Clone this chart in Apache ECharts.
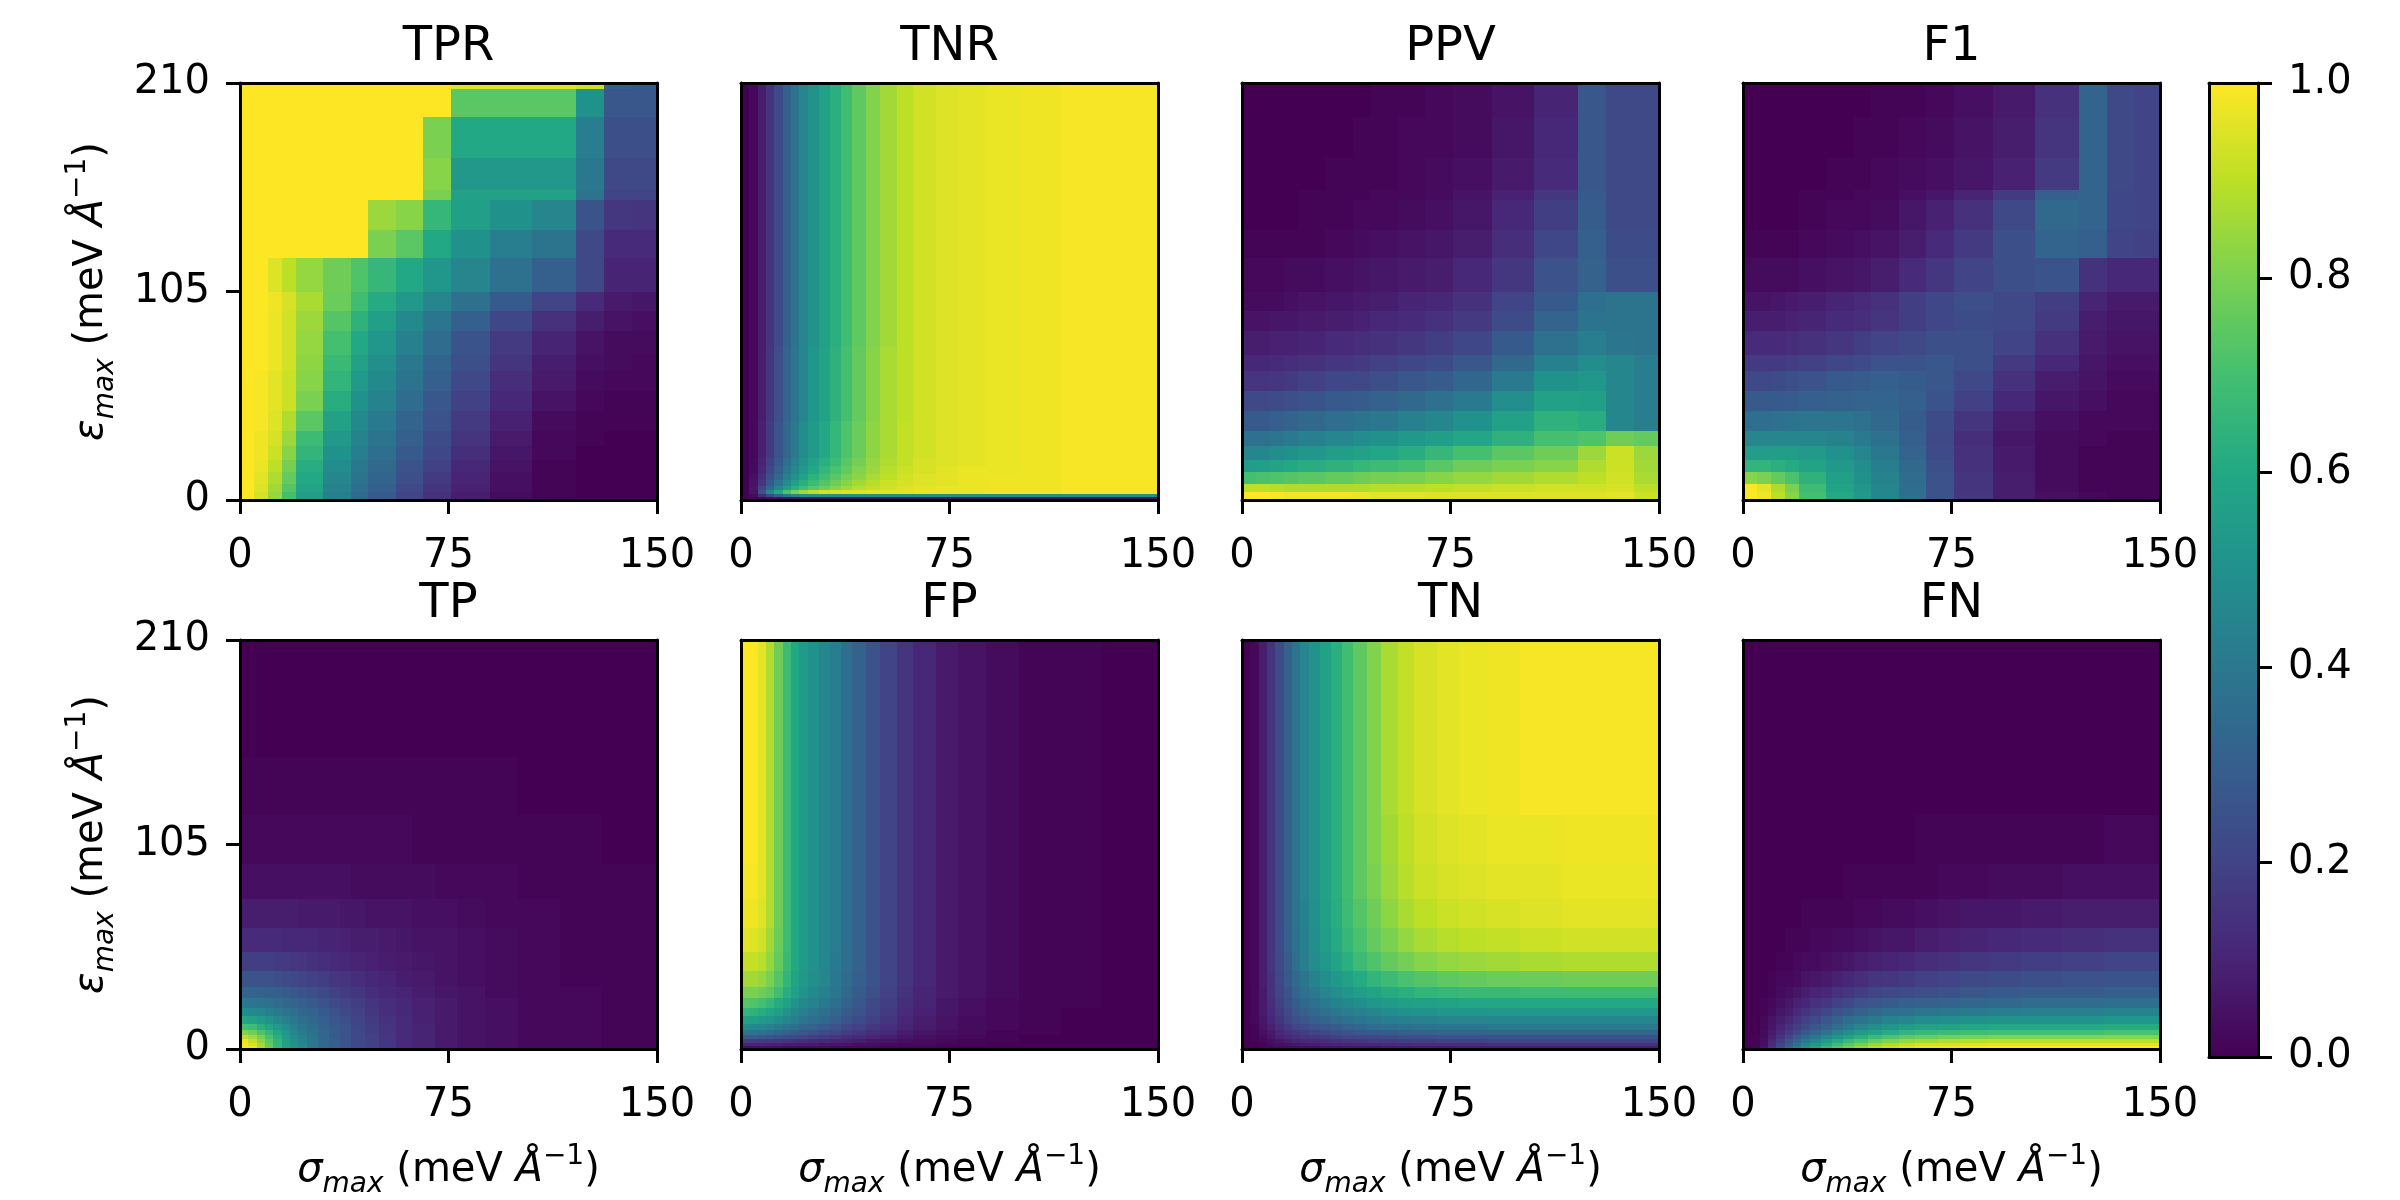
<!DOCTYPE html>
<html>
<head>
  <meta charset="utf-8">
  <script src="https://cdn.jsdelivr.net/npm/echarts@6/dist/echarts.min.js"></script>
</head>
<body style="margin: 0; background: #fff">
  <div id="container" style="width: 2400px; height: 1200px"></div>
  <script>
    // panel titles, tick labels
    const panelNames = ['TPR', 'TNR', 'PPV', 'F1', 'TP', 'FP', 'TN', 'FN'];
    const sigmaTicks = [0, 75, 150];
    const epsTicks = [0, 105, 210];
    const cbarTicks = [0, 0.2, 0.4, 0.6, 0.8, 1.0];

    // cell edges (sigma on x, epsilon on y) for the blocky and the smooth panels
    const blockX = [0, 5, 10, 15, 20, 30, 40, 46, 56, 66, 76, 90, 105, 121, 131, 141, 150];
    const blockY = [0, 4, 8, 14, 20, 27, 35, 45, 55, 65, 73, 85, 95, 105, 122, 136, 151, 156, 172, 193, 207, 210];
    const smoothX = [0, 3, 6, 9, 12, 15, 18, 21, 24, 28, 32, 36, 40, 45, 50, 56, 62, 70, 78, 88, 100, 115, 130, 150];
    const smoothY = [0, 1.5, 3, 5, 7, 10, 13, 17, 21, 26, 32, 40, 50, 62, 77, 95, 120, 150, 180, 210];

    // values in percent, rows listed from the top of each panel down
    const tprRows = [
      [100,100,100,100,100,100,100,100,100,100,95,95,95,92,30,28],
      [100,100,100,100,100,100,100,100,100,100,74,74,74,50,27,27],
      [100,100,100,100,100,100,100,100,100,80,60,60,60,42,24,24],
      [100,100,100,100,100,100,100,100,100,82,53,53,53,40,22,22],
      [100,100,100,100,100,100,100,100,100,80,57,57,57,38,20,20],
      [100,100,100,100,100,100,100,85,82,66,56,50,45,26,16,15],
      [100,100,100,100,100,100,100,80,74,60,50,42,38,22,12,12],
      [100,100,95,90,84,78,72,66,60,52,45,37,30,22,10,10],
      [100,100,98,94,87,77,69,61,53,45,37,28,20,12,7,6],
      [100,100,97,93,85,73,64,56,47,39,30,21,14,8,5,4],
      [100,100,97,93,84,70,60,52,43,35,26,17,10,5,3,3],
      [100,100,97,93,83,67,57,49,40,32,24,15,8,4,3,2],
      [100,99,96,92,82,65,54,47,38,30,22,13,7,3,2,2],
      [100,99,96,92,80,62,50,44,35,27,19,11,5,2,1,1],
      [100,99,95,88,74,57,47,41,32,25,17,9,3,1,1,1],
      [100,98,94,85,68,53,44,38,30,23,15,7,2,1,0,0],
      [100,98,92,82,65,50,42,36,28,21,13,6,2,0,0,0],
      [100,97,90,79,62,48,40,34,26,19,11,5,1,0,0,0],
      [100,96,88,76,60,46,38,32,24,17,10,4,1,0,0,0],
      [100,95,86,73,58,44,36,30,22,15,9,4,1,0,0,0],
      [100,94,84,70,55,42,34,28,20,14,8,3,1,0,0,0]
    ];
    const ppvRows = [
      [0,0,0,0,0,0,0,1,1,2,3,5,10,27,22,22],
      [0,0,0,0,0,0,0,1,1,2,3,5,10,27,22,22],
      [0,0,0,0,0,0,1,1,2,2,3,6,11,27,22,22],
      [0,0,0,0,0,1,1,1,2,3,4,7,12,27,22,22],
      [0,0,0,0,1,1,1,2,2,3,5,9,16,28,22,22],
      [0,0,0,0,1,1,2,2,3,4,6,11,18,29,22,22],
      [1,1,1,1,1,2,3,4,5,6,8,13,21,30,23,23],
      [2,2,2,3,3,4,5,6,7,8,11,16,25,31,24,24],
      [3,3,3,4,5,6,7,8,10,11,14,20,28,36,38,38],
      [5,5,6,6,7,8,9,11,12,14,17,23,32,38,38,38],
      [8,8,9,9,10,12,13,14,16,18,21,28,37,42,39,38],
      [11,11,12,13,14,16,17,19,21,23,27,34,43,48,46,42],
      [15,15,16,17,19,21,22,24,27,29,33,41,50,52,46,42],
      [22,22,23,24,26,28,29,31,34,37,41,49,57,56,46,42],
      [28,28,30,32,34,36,38,40,43,46,50,57,64,62,46,42],
      [37,37,39,41,43,46,48,50,53,55,59,64,70,72,78,76],
      [45,46,48,50,52,55,57,59,62,66,70,74,78,85,92,85],
      [55,56,58,60,62,64,66,68,70,74,78,80,82,88,92,86],
      [70,71,72,73,74,76,78,79,80,82,84,86,88,90,93,87],
      [90,90,89,88,88,88,88,89,89,90,91,92,93,93,94,90],
      [100,100,99,98,98,98,97,96,96,95,95,95,95,95,96,92]
    ];
    const f1Rows = [
      [0,0,0,0,0,0,0,1,1,2,4,7,14,32,22,20],
      [0,0,0,0,0,0,0,1,1,2,4,7,14,32,22,20],
      [0,0,0,0,0,0,1,1,2,3,5,8,15,32,22,20],
      [0,0,0,0,0,1,1,2,3,4,6,9,17,32,22,20],
      [0,0,0,0,1,1,2,2,4,6,10,17,30,32,21,20],
      [0,0,0,0,1,2,2,3,6,9,14,22,34,32,21,20],
      [1,1,1,1,2,3,4,5,8,12,17,24,32,30,20,19],
      [3,3,3,3,4,5,6,8,12,16,20,24,26,14,11,11],
      [5,5,6,7,8,10,12,14,18,21,24,22,18,10,7,7],
      [8,8,8,9,10,12,13,15,18,21,23,22,17,8,6,6],
      [12,12,12,13,14,16,18,20,22,24,24,20,14,7,5,5],
      [17,17,17,18,19,21,23,25,26,27,24,17,11,6,4,4],
      [22,22,23,24,26,28,29,30,29,27,22,14,8,5,3,3],
      [28,28,28,29,30,31,32,32,30,26,19,11,6,4,2,2],
      [36,36,37,38,39,39,37,34,29,23,15,8,4,2,2,2],
      [45,45,46,46,46,44,41,37,30,22,13,6,3,2,1,1],
      [55,55,55,55,54,50,46,40,32,23,14,7,3,1,1,1],
      [65,65,63,61,58,53,48,42,34,24,14,7,3,1,1,1],
      [82,80,76,71,64,56,50,44,35,25,15,8,3,1,1,1],
      [100,96,88,80,68,58,52,46,36,25,15,8,3,1,1,1],
      [100,98,90,82,70,60,53,46,36,26,16,8,4,2,1,1]
    ];
    const tnrRows = [
      [0,2,8,15,23,31,38,45,51,57,63,69,75,81,86,90,93,95,96,97,98,99,99],
      [0,2,8,15,23,31,38,45,51,57,63,69,75,81,86,90,93,95,96,97,98,99,99],
      [0,2,8,15,23,31,38,45,51,57,63,69,75,81,86,90,93,95,96,97,98,99,99],
      [0,2,8,15,23,31,38,45,51,57,63,69,75,81,86,90,93,95,96,97,98,99,99],
      [0,2,8,15,23,31,38,45,51,57,63,69,75,81,86,90,93,95,96,97,98,99,99],
      [0,2,8,16,24,32,39,46,52,58,64,70,76,82,87,90,93,95,96,97,98,99,99],
      [0,2,8,16,24,32,39,46,52,58,64,70,76,82,87,90,93,95,96,97,98,99,99],
      [0,2,8,16,24,32,39,46,52,58,64,70,76,82,87,90,93,95,96,97,98,99,99],
      [0,2,9,17,26,34,41,48,54,60,66,72,77,83,87,91,93,95,96,97,98,99,99],
      [0,2,9,17,26,34,41,48,54,60,66,72,77,83,87,91,93,95,96,97,98,99,99],
      [0,2,9,17,26,34,41,48,54,60,66,72,77,83,87,91,93,95,96,97,98,99,99],
      [0,3,10,19,28,36,44,51,57,63,68,74,79,84,88,91,94,95,96,97,98,99,99],
      [0,3,11,21,30,39,47,54,60,66,71,76,81,85,89,92,94,96,97,97,98,99,99],
      [0,4,13,24,34,43,51,58,64,69,74,79,83,87,90,93,95,96,97,98,98,99,99],
      [0,5,16,28,39,48,56,63,68,73,78,82,86,89,92,94,95,96,97,98,98,99,99],
      [0,6,20,33,45,55,63,69,74,78,82,86,89,91,93,95,96,97,97,98,98,99,99],
      [0,5,25,45,60,72,80,86,90,93,94,95,95,96,96,96,97,97,97,98,98,99,99],
      [0,3,12,22,32,40,45,48,50,50,50,50,50,50,50,50,50,50,50,50,50,50,50],
      [0,1,2,3,4,5,5,5,5,5,5,5,5,5,5,5,5,5,5,5,5,5,5]
    ];
    const tpRows = [
      [0,0,0,0,0,0,0,0,0,0,0,0,0,0,0,0,0,0,0,0,0,0,0],
      [0,0,0,0,0,0,0,0,0,0,0,0,0,0,0,0,0,0,0,0,0,0,0],
      [1,1,1,1,1,1,1,1,1,1,1,1,1,1,1,1,1,1,1,1,0,0,0],
      [2,2,2,2,2,2,2,2,2,2,2,2,2,2,2,2,1,1,1,1,1,1,0],
      [4,4,4,4,4,4,4,4,4,4,4,4,3,3,3,3,3,2,2,2,1,1,1],
      [8,8,8,8,8,8,8,7,7,7,7,6,6,5,5,5,4,4,3,2,2,1,1],
      [12,12,12,12,12,11,11,11,11,10,10,9,8,8,7,6,5,5,4,3,2,1,1],
      [18,18,18,18,17,17,16,15,14,13,12,11,10,9,8,7,6,5,4,3,2,1,1],
      [26,26,25,25,24,23,22,20,19,18,16,15,13,11,10,8,7,5,4,3,2,1,1],
      [32,32,31,31,30,29,27,26,24,22,19,17,16,13,11,10,8,6,5,3,2,2,1],
      [40,39,38,37,35,33,32,30,28,25,23,20,18,15,13,11,9,7,5,4,2,2,1],
      [48,47,45,43,41,38,36,33,31,28,25,22,19,16,13,11,9,7,5,4,2,2,1],
      [59,57,54,51,47,43,40,36,33,30,27,24,20,17,14,12,9,7,5,4,2,2,1],
      [70,68,63,59,53,48,43,39,35,31,28,25,21,18,15,12,10,7,5,4,2,2,1],
      [81,78,72,66,59,52,46,41,37,33,29,25,22,18,15,12,10,7,5,4,2,2,1],
      [90,86,79,71,62,55,48,43,38,33,29,26,22,19,16,12,10,7,5,4,2,2,1],
      [97,91,83,74,65,56,50,44,39,34,30,26,22,19,16,12,10,7,5,4,2,2,1],
      [99,94,86,76,66,57,50,45,39,34,30,26,22,19,16,12,10,7,5,4,2,2,1],
      [99,97,87,77,66,57,51,45,39,34,30,26,22,19,16,12,10,7,5,4,2,2,1]
    ];
    const fpRows = [
      [100,100,96,88,78,68,60,54,50,46,42,36,31,25,20,15,11,7,5,3,1,1,0],
      [100,100,96,88,78,68,60,54,50,46,42,36,31,25,20,15,11,7,5,3,1,1,0],
      [100,100,96,88,78,68,60,54,50,46,42,36,31,25,20,15,11,7,5,3,1,1,0],
      [100,100,96,88,78,68,60,54,50,46,42,36,31,25,20,15,11,7,5,3,1,1,0],
      [99,99,96,88,78,68,60,54,50,46,42,36,31,25,20,15,11,7,5,3,1,1,0],
      [98,98,95,88,78,68,60,54,50,46,42,36,31,25,20,15,11,7,5,3,1,1,0],
      [96,95,93,86,77,68,60,54,50,46,42,36,31,25,20,15,11,7,5,3,1,1,0],
      [91,91,89,84,76,67,60,54,50,46,41,36,31,25,20,15,11,7,5,3,1,1,0],
      [86,86,84,80,73,65,58,53,49,45,40,35,30,25,20,15,11,7,5,3,1,1,0],
      [80,80,78,75,69,62,56,51,47,43,39,34,29,24,19,14,10,7,5,3,1,1,0],
      [73,72,70,66,61,56,51,47,44,40,36,32,27,22,18,13,10,6,4,2,1,1,0],
      [65,64,62,59,55,51,47,43,40,36,33,29,25,21,17,12,9,6,4,2,1,0,0],
      [57,56,54,52,49,45,42,39,36,33,30,26,23,19,15,11,8,5,3,2,1,0,0],
      [48,47,46,44,41,38,36,33,31,28,25,22,19,16,13,10,7,5,3,2,1,0,0],
      [38,38,37,35,33,31,29,27,25,23,21,18,16,13,11,8,6,4,3,1,1,0,0],
      [28,28,27,26,24,23,21,20,18,17,15,13,12,10,8,6,4,3,2,1,0,0,0],
      [18,18,17,17,16,15,14,13,12,11,10,9,8,6,5,4,3,2,1,1,0,0,0],
      [10,10,10,9,9,8,8,7,7,6,6,5,4,4,3,2,2,1,1,0,0,0,0],
      [4,4,4,4,4,3,3,3,3,3,2,2,2,2,1,1,1,0,0,0,0,0,0]
    ];
    const tnRows = [
      [0,2,8,15,23,31,38,45,51,57,63,69,75,81,87,91,94,96,97,98,99,99,99],
      [0,2,8,15,23,31,38,45,51,57,63,69,75,81,87,91,94,96,97,98,99,99,99],
      [0,2,8,15,23,31,38,45,51,57,63,69,75,81,87,91,94,96,97,98,99,99,99],
      [0,2,8,15,23,31,38,45,51,57,63,69,75,81,86,90,93,95,96,97,97,98,98],
      [0,2,8,15,23,31,38,45,51,57,63,69,75,80,85,89,92,94,95,96,96,97,97],
      [0,2,8,15,23,31,38,44,50,56,62,68,73,78,83,87,90,92,93,94,95,96,96],
      [0,2,8,15,23,30,37,43,49,55,61,66,71,76,80,84,87,89,90,91,92,93,93],
      [0,2,8,15,22,29,36,42,48,53,58,63,68,72,76,79,82,84,85,86,87,88,88],
      [0,2,8,14,21,28,34,39,44,49,53,57,61,65,68,71,73,75,76,77,77,78,78],
      [0,2,7,14,20,26,32,37,41,45,49,52,55,58,61,63,65,66,67,67,68,68,68],
      [0,2,7,13,19,24,29,34,37,41,44,47,49,52,54,56,57,58,59,59,60,60,60],
      [0,2,7,12,17,22,27,31,34,37,40,42,44,46,48,50,51,52,52,53,53,53,53],
      [0,2,6,11,15,20,24,27,30,32,35,37,39,41,42,43,44,45,45,46,46,46,46],
      [0,1,5,9,13,17,20,23,25,27,29,31,33,35,36,37,38,39,39,40,40,40,40],
      [0,1,4,7,11,14,16,18,20,22,24,25,27,28,29,30,31,32,32,33,33,33,33],
      [0,1,3,6,9,11,13,15,16,17,19,20,21,22,23,24,24,25,25,26,26,26,26],
      [0,1,2,4,6,8,10,11,12,13,14,15,16,17,17,18,18,19,19,20,20,20,20],
      [0,0,1,3,4,5,6,7,8,9,10,10,11,11,12,12,13,13,13,14,14,14,14],
      [0,0,1,1,2,3,3,4,4,5,5,6,6,6,7,7,7,7,8,8,8,8,8]
    ];
    const fnRows = [
      [0,0,0,0,0,0,0,0,0,0,0,0,0,0,0,0,0,0,0,0,0,0,0],
      [0,0,0,0,0,0,0,0,0,0,0,0,0,0,0,0,0,0,0,0,0,0,0],
      [0,0,0,0,0,0,0,0,0,0,0,0,0,0,0,0,0,0,0,0,0,0,0],
      [0,0,0,0,0,0,0,0,0,0,0,0,0,0,0,0,1,1,1,1,1,1,2],
      [0,0,0,0,0,0,0,0,0,0,0,1,1,1,1,1,1,2,2,3,3,4,4],
      [0,0,0,0,0,0,0,1,1,1,1,1,2,2,3,3,4,5,6,6,7,8,8],
      [0,0,0,0,0,1,1,1,2,2,3,3,4,5,6,6,8,9,10,11,12,13,14],
      [0,0,0,0,1,1,2,3,3,4,5,6,8,9,10,11,13,14,16,17,18,19,20],
      [0,0,0,1,2,2,3,5,6,7,9,11,13,15,16,17,19,20,22,23,24,25,26],
      [0,0,0,1,3,4,6,8,10,11,14,16,18,20,22,23,24,25,27,28,29,29,30],
      [0,0,1,2,4,6,9,11,14,16,19,22,25,27,29,30,31,32,33,34,35,35,36],
      [0,0,1,3,6,8,12,15,18,21,25,28,31,34,36,37,39,40,41,42,43,43,44],
      [0,0,2,5,8,11,15,19,23,27,31,35,38,41,44,46,48,49,50,51,51,51,52],
      [0,0,2,6,10,14,18,23,27,31,36,41,45,49,52,55,57,58,59,60,60,60,61],
      [0,0,3,7,12,17,22,28,33,38,44,49,54,58,62,65,67,68,69,70,70,70,71],
      [0,1,3,9,15,21,28,34,40,46,52,58,63,68,72,75,77,79,80,81,81,81,82],
      [0,1,4,11,18,26,33,40,47,54,61,67,72,77,81,84,86,88,89,90,90,90,90],
      [0,1,4,12,21,29,37,45,53,61,68,74,79,84,88,91,93,94,95,96,96,96,96],
      [0,1,5,14,24,33,42,50,58,66,73,79,84,89,92,95,97,98,99,100,100,100,100]
    ];

    const viridis = ['#440154', '#482475', '#414487', '#355f8d', '#2a788e', '#21918c',
                     '#22a884', '#44bf70', '#7ad151', '#bddf26', '#fde725'];

    const panels = [
      { rows: tprRows, xe: blockX, ye: blockY },
      { rows: tnrRows, xe: smoothX, ye: smoothY },
      { rows: ppvRows, xe: blockX, ye: blockY },
      { rows: f1Rows, xe: blockX, ye: blockY },
      { rows: tpRows, xe: smoothX, ye: smoothY },
      { rows: fpRows, xe: smoothX, ye: smoothY },
      { rows: tnRows, xe: smoothX, ye: smoothY },
      { rows: fnRows, xe: smoothX, ye: smoothY }
    ];

    const FONT = 'DejaVu Sans';
    const colLeft = [240, 741, 1242, 1743];
    const rowTop = [83, 640];
    const panelW = 417;
    const panelH = 417;

    const unitRich = {
      it: { fontFamily: FONT, fontSize: 40, fontStyle: 'italic', color: '#000', lineHeight: 56 },
      rm: { fontFamily: FONT, fontSize: 40, color: '#000', lineHeight: 56 },
      sub: { fontFamily: FONT, fontSize: 28, fontStyle: 'italic', color: '#000', lineHeight: 24, verticalAlign: 'bottom' },
      sup: { fontFamily: FONT, fontSize: 28, color: '#000', lineHeight: 24, verticalAlign: 'top' }
    };
    const xName = '{it|σ}{sub|max}{rm| (meV }{it|Å}{sup|−1}{rm|)}';
    const yName = '{it|ε}{sub|max}{rm| (meV }{it|Å}{sup|−1}{rm|)}';

    function buildCells(rows, xe, ye) {
      const n = ye.length - 1;
      const cells = [];
      rows.forEach(function (row, r) {
        const y0 = ye[n - 1 - r], y1 = ye[n - r];
        row.forEach(function (v, c) {
          cells.push([xe[c], xe[c + 1], y0, y1, v]);
        });
      });
      return cells;
    }

    function renderCell(params, api) {
      const a = api.coord([api.value(0), api.value(3)]);
      const b = api.coord([api.value(1), api.value(2)]);
      const x0 = Math.round(a[0]), y0 = Math.round(a[1]);
      const x1 = Math.round(b[0]), y1 = Math.round(b[1]);
      return {
        type: 'rect',
        shape: { x: x0, y: y0, width: x1 - x0, height: y1 - y0 },
        style: { fill: api.visual('color') }
      };
    }

    const lineStyle = { color: '#000', width: 3 };

    function frameAxis(gridIndex, position, ticks) {
      return {
        gridIndex: gridIndex, type: 'value', position: position, z: 10,
        min: ticks[0], max: ticks[ticks.length - 1], interval: ticks[1] - ticks[0],
        axisLine: { show: true, onZero: false, lineStyle: lineStyle },
        axisTick: { show: false },
        axisLabel: { show: false },
        splitLine: { show: false }
      };
    }

    function tickedAxis(gridIndex, position, ticks, margin, fmt) {
      const ax = frameAxis(gridIndex, position, ticks);
      ax.axisTick = { show: true, length: 14, lineStyle: lineStyle };
      ax.axisLabel = {
        show: true, margin: margin, fontFamily: FONT, fontSize: 40, color: '#000',
        showMinLabel: true, showMaxLabel: true, formatter: fmt
      };
      return ax;
    }

    const grids = [], xAxes = [], yAxes = [], series = [];

    panels.forEach(function (p, i) {
      const row = i < 4 ? 0 : 1;
      const col = i % 4;
      grids.push({ left: colLeft[col], top: rowTop[row], width: panelW, height: panelH });

      const xb = tickedAxis(i, 'bottom', sigmaTicks, 37);
      if (row === 1) {
        xb.name = xName;
        xb.nameLocation = 'middle';
        xb.nameGap = 94;
        xb.nameTextStyle = { rich: unitRich };
      }
      const xt = frameAxis(i, 'top', sigmaTicks);
      xt.name = panelNames[i];
      xt.nameLocation = 'middle';
      xt.nameGap = 11;
      xt.nameTextStyle = { fontFamily: FONT, fontSize: 48, color: '#000' };
      xAxes.push(xb, xt);

      let yl;
      if (col === 0) {
        yl = tickedAxis(i, 'left', epsTicks, 30);
        yl.name = yName;
        yl.nameLocation = 'middle';
        yl.nameRotate = 90;
        yl.nameGap = 120;
        yl.nameTextStyle = { rich: unitRich };
      } else {
        yl = frameAxis(i, 'left', epsTicks);
      }
      yAxes.push(yl, frameAxis(i, 'right', epsTicks));

      series.push({
        type: 'custom',
        xAxisIndex: 2 * i,
        yAxisIndex: 2 * i,
        dimensions: ['x0', 'x1', 'y0', 'y1', 'v'],
        encode: { x: [0, 1], y: [2, 3] },
        renderItem: renderCell,
        data: buildCells(p.rows, p.xe, p.ye),
        silent: true
      });
    });

    // colour bar
    const cb = panels.length;
    grids.push({ left: 2209, top: 83, width: 49, height: 974 });
    xAxes.push(frameAxis(cb, 'bottom', [0, 1]), frameAxis(cb, 'top', [0, 1]));
    yAxes.push(frameAxis(cb, 'left', cbarTicks),
               tickedAxis(cb, 'right', cbarTicks, 30, function (v) { return v.toFixed(1); }));
    series.push({
      type: 'custom',
      xAxisIndex: 2 * cb,
      yAxisIndex: 2 * cb + 1,
      encode: { x: [0, 1], y: [2, 3] },
      data: [[0, 1, 0, 1]],
      silent: true,
      renderItem: function (params, api) {
        const a = api.coord([api.value(0), api.value(3)]);
        const b = api.coord([api.value(1), api.value(2)]);
        const stops = viridis.map(function (c, k) { return { offset: k / (viridis.length - 1), color: c }; });
        return {
          type: 'rect',
          shape: { x: a[0], y: a[1], width: b[0] - a[0], height: b[1] - a[1] },
          style: { fill: new echarts.graphic.LinearGradient(0, 1, 0, 0, stops) }
        };
      }
    });

    const chart = echarts.init(document.getElementById('container'), null, { renderer: 'canvas' });
    chart.setOption({
      animation: false,
      backgroundColor: '#fff',
      grid: grids,
      xAxis: xAxes,
      yAxis: yAxes,
      visualMap: {
        type: 'continuous', show: false, min: 0, max: 100, dimension: 4,
        seriesIndex: [0, 1, 2, 3, 4, 5, 6, 7],
        inRange: { color: viridis }
      },
      series: series
    });
  </script>
</body>
</html>
